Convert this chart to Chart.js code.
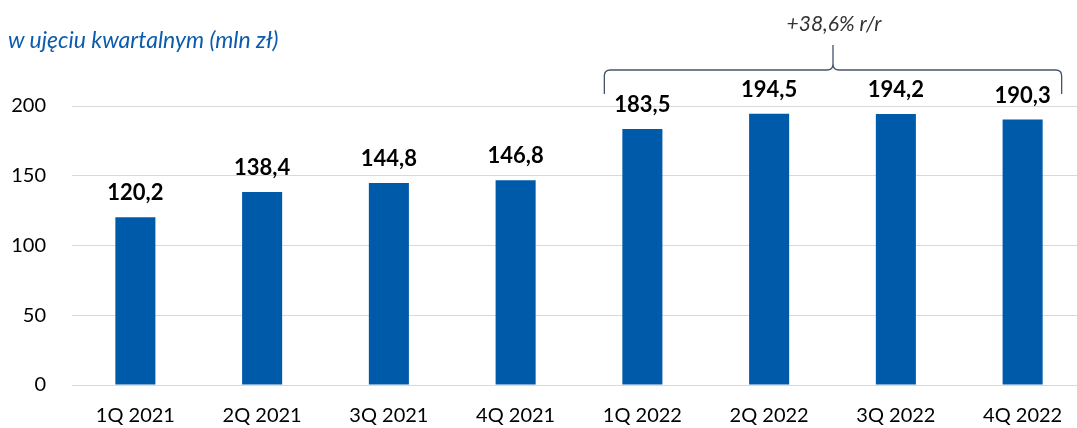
<!DOCTYPE html>
<html>
<head>
<meta charset="utf-8">
<script src="https://cdn.jsdelivr.net/npm/chart.js@4"></script>
<style>
  html, body { margin: 0; padding: 0; background: #fff; overflow: hidden; }
  #wrap { position: relative; width: 1100px; height: 428px; }
  #subtitle {
    position: absolute; left: 8px; top: 25px;
    font: italic 23px Lato, sans-serif; color: #0b5cad; white-space: nowrap;
  }
</style>
</head>
<body>
<div id="wrap">
  <canvas id="revChart" width="1100" height="428"></canvas>
  <div id="subtitle">w ujęciu kwartalnym (mln zł)</div>
</div>
<script>
// quarterly figures, mln zł
const quarters = ['1Q 2021', '2Q 2021', '3Q 2021', '4Q 2021', '1Q 2022', '2Q 2022', '3Q 2022', '4Q 2022'];
const revenue = [120.2, 138.4, 144.8, 146.8, 183.5, 194.5, 194.2, 190.3];
const yTicks = [0, 50, 100, 150, 200];
const growthNote = '+38,6% r/r';
const bracedFrom = 4;  // 1Q 2022
const bracedTo = 7;    // 4Q 2022

const fmt = v => v.toFixed(1).replace('.', ',');

// value labels above the bars
const barLabels = {
  id: 'barLabels',
  afterDatasetsDraw(chart) {
    const ctx = chart.ctx;
    const meta = chart.getDatasetMeta(0);
    ctx.save();
    ctx.font = 'bold 22px Lato, sans-serif';
    ctx.fillStyle = '#000';
    ctx.textAlign = 'center';
    ctx.textBaseline = 'alphabetic';
    meta.data.forEach((bar, i) => {
      ctx.fillText(fmt(revenue[i]), bar.x, bar.y - 17);
    });
    ctx.restore();
  }
};

// curly brace over 2022 with y/y growth
const growthBrace = {
  id: 'growthBrace',
  afterDraw(chart) {
    const ctx = chart.ctx;
    const meta = chart.getDatasetMeta(0);
    const a = meta.data[bracedFrom], b = meta.data[bracedTo];
    const x1 = a.x - a.width / 2 - 18;
    const x2 = b.x + b.width / 2 + 19;
    const xm = (x1 + x2) / 2;
    const top = chart.chartArea.top;
    const yEnd = top - 12, yMid = top - 36, yTip = top - 61;
    const r = 6;
    ctx.save();
    ctx.strokeStyle = '#44546a';
    ctx.lineWidth = 1.3;
    ctx.beginPath();
    ctx.moveTo(x1, yEnd);
    ctx.lineTo(x1, yMid + r);
    ctx.quadraticCurveTo(x1, yMid, x1 + r, yMid);
    ctx.lineTo(xm - r, yMid);
    ctx.quadraticCurveTo(xm, yMid, xm, yMid - r);
    ctx.lineTo(xm, yTip);
    ctx.moveTo(xm, yMid - r);
    ctx.quadraticCurveTo(xm, yMid, xm + r, yMid);
    ctx.lineTo(x2 - r, yMid);
    ctx.quadraticCurveTo(x2, yMid, x2, yMid + r);
    ctx.lineTo(x2, yEnd);
    ctx.stroke();
    ctx.font = 'italic 21px Lato, sans-serif';
    ctx.fillStyle = '#333';
    ctx.textAlign = 'center';
    ctx.textBaseline = 'middle';
    ctx.fillText(growthNote, xm + 1, top - 82);
    ctx.restore();
  }
};

document.addEventListener('DOMContentLoaded', () => {
  const ctx = document.getElementById('revChart').getContext('2d');
  new Chart(ctx, {
    type: 'bar',
    data: {
      labels: quarters,
      datasets: [{
        data: revenue,
        backgroundColor: '#005aaa',
        borderWidth: 0,
        barPercentage: 0.316,
        categoryPercentage: 1
      }]
    },
    options: {
      responsive: false,
      animation: false,
      layout: { padding: { top: 106, right: 14, left: 0, bottom: 0 } },
      plugins: {
        legend: { display: false },
        tooltip: { enabled: false }
      },
      scales: {
        y: {
          min: 0,
          max: 200,
          afterBuildTicks: axis => { axis.ticks = yTicks.map(v => ({ value: v })); },
          afterFit: axis => { axis.width = 72; },
          border: { display: false },
          grid: { color: '#d9d9d9', lineWidth: 1, drawTicks: false },
          ticks: {
            padding: 26,
            color: '#000',
            font: { family: 'Lato, sans-serif', size: 20 }
          }
        },
        x: {
          afterFit: axis => { axis.height = 43; },
          border: { display: false },
          grid: { display: false, drawTicks: false },
          ticks: {
            padding: 19,
            color: '#000',
            maxRotation: 0,
            font: { family: 'Lato, sans-serif', size: 20 }
          }
        }
      }
    },
    plugins: [barLabels, growthBrace]
  });
});
</script>
</body>
</html>
